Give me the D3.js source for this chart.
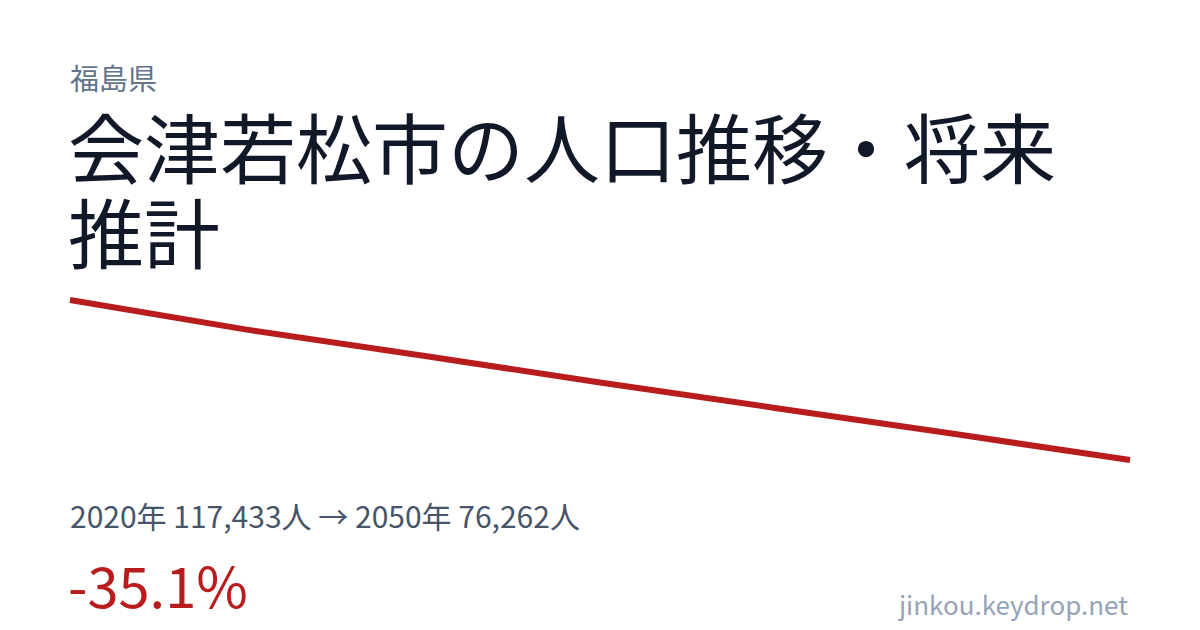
<!DOCTYPE html>
<html>
<head>
<meta charset="utf-8">
<script src="https://cdn.jsdelivr.net/npm/d3@7"></script>
<style>
  html, body { margin: 0; padding: 0; background: #fff; }
  svg { display: block; }
  text { font-family: "Noto Sans CJK JP", "Noto Sans", sans-serif; }
</style>
</head>
<body>
<svg id="card" width="1200" height="630"></svg>
<script>
var years = [2020, 2025, 2030, 2035, 2040, 2045, 2050];
var population = [117433, 109800, 103100, 96200, 89600, 83000, 76262];
var prefecture = "福島県";
var titleLines = ["会津若松市の人口推移・将来", "推計"];
var site = "jinkou.keydrop.net";

var svg = d3.select("#card");

var x = d3.scaleLinear()
  .domain(d3.extent(years))
  .range([70, 1130]);

var y = d3.scaleLinear()
  .domain(d3.extent(population))
  .range([460, 300]);

var data = years.map(function(d, i){ return {year: d, value: population[i]}; });

svg.append("text")
  .attr("x", 70)
  .attr("y", 90)
  .attr("font-size", 29)
  .attr("fill", "#64748b")
  .text(prefecture);

svg.append("text")
  .attr("font-size", 76)
  .attr("fill", "#111827")
  .selectAll("tspan")
  .data(titleLines)
  .enter().append("tspan")
  .attr("x", 68)
  .attr("y", function(d, i){ return 178 + i * 85; })
  .text(function(d){ return d; });

var line = d3.line()
  .x(function(d){ return x(d.year); })
  .y(function(d){ return y(d.value); });

svg.append("path")
  .datum(data)
  .attr("d", line)
  .attr("fill", "none")
  .attr("stroke", "#b91c1c")
  .attr("stroke-width", 6);

var first = data[0], last = data[data.length - 1];
var fmt = d3.format(",");
var change = (last.value - first.value) / first.value * 100;

svg.append("text")
  .attr("x", 70)
  .attr("y", 528)
  .attr("font-size", 30)
  .attr("fill", "#475569")
  .text(first.year + "年 " + fmt(first.value) + "人 → " + last.year + "年 " + fmt(last.value) + "人");

svg.append("text")
  .attr("x", 68)
  .attr("y", 608)
  .attr("font-size", 56)
  .attr("fill", "#b91c1c")
  .text(change.toFixed(1) + "%");

svg.append("text")
  .attr("x", 1128)
  .attr("y", 615)
  .attr("text-anchor", "end")
  .attr("font-size", 26)
  .attr("fill", "#94a3b8")
  .text(site);
</script>
</body>
</html>
